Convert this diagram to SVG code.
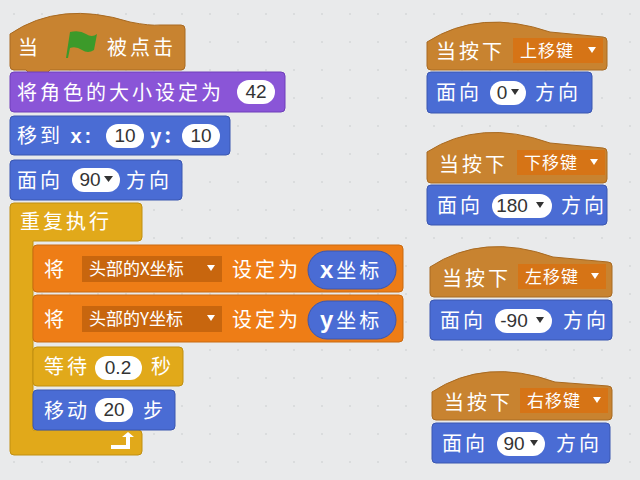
<svg xmlns="http://www.w3.org/2000/svg" width="640" height="480" viewBox="0 0 640 480">
<defs>
<pattern id="dots" width="28" height="28" patternUnits="userSpaceOnUse"><circle cx="14" cy="14" r="1" fill="#d6d7d8"/></pattern>
</defs>
<style>
text{font-family:"Noto Sans CJK SC","Liberation Sans",sans-serif;font-size:20px;letter-spacing:3px;fill:#fff}
.ev{fill:#c88330;stroke:#a86a22;stroke-width:1}
.lk{fill:#8a55d7;stroke:#6e3fba}
.mo{fill:#4a6cd4;stroke:#3a56b0}
.ct{fill:#e1a91a;stroke:#c08f10}
.da{fill:#ee7d16;stroke:#c96a10}
.bub{fill:#fff}
.bt{fill:#333;font-family:"Liberation Sans",sans-serif;font-size:19px;letter-spacing:0}
.dd{fill:#c8660e}
.ddl{fill:#d67416}
.dt{fill:#fff;font-size:17px;letter-spacing:0}
.dtr{fill:#fff;font-size:17px;letter-spacing:1px}
.tri{fill:#fff}
.tri2{fill:#333}
</style>
<rect width="640" height="480" fill="#e9eaeb"/>
<rect width="640" height="480" fill="url(#dots)"/>

<g id="start">
<path class="ev" d="M10,34 Q60,0 130,22 Q150,26 160,25 L181,25 Q185,25 185,29 L185,66 Q185,70 181,70 L50,70 L46,74 L30,74 L26,70 L14,70 Q10,70 10,66 Z"/>
<text x="18" y="55">当</text>
<path d="M66,58 L70,32 Q80,30 86,34 Q92,38 97,34 L94,50 Q88,54 82,50 Q76,46 70,48 L68,58 Z" fill="#3c9a2a"/>
<text x="107" y="55">被点击</text>
</g>
<g id="size">
<rect class="lk" x="10" y="72" width="275" height="40" rx="4"/>
<text x="17" y="100" letter-spacing="4">将角色的大小设定为</text>
<rect class="bub" x="237" y="80" width="38" height="24" rx="12"/><text class="bt" x="256" y="98" text-anchor="middle">42</text>
</g>
<g id="goto">
<rect class="mo" x="10" y="116" width="220" height="39" rx="4"/>
<text x="17" y="143">移到 <tspan font-weight="bold" font-family="Liberation Sans">x:</tspan></text>
<rect class="bub" x="106" y="124" width="38" height="24" rx="12"/><text class="bt" x="125" y="142" text-anchor="middle">10</text>
<text x="150" y="143" font-weight="bold" font-family="Liberation Sans">y:</text>
<rect class="bub" x="182" y="124" width="38" height="24" rx="12"/><text class="bt" x="201" y="142" text-anchor="middle">10</text>
</g>
<g id="face1">
<rect class="mo" x="10" y="160" width="172" height="40" rx="4"/>
<text x="17" y="188">面向</text>
<rect class="bub" x="72" y="168" width="48" height="24" rx="12"/><text class="bt" x="90" y="186" text-anchor="middle">90</text><path class="tri2" d="M104,176 L113,176 L108.5,182 Z"/>
<text x="126" y="188">方向</text>
</g>
<g id="repeat">
<path class="ct" d="M14,203 L138,203 Q142,203 142,207 L142,237 Q142,241 138,241 L33,241 L33,430 L138,430 Q142,430 142,434 L142,451 Q142,455 138,455 L14,455 Q10,455 10,451 L10,207 Q10,203 14,203 Z"/>
<text x="20" y="229">重复执行</text>
<path d="M117,447 L132,447 L132,439 L128,439 L134,434 L140,439 L136,439 L136,451 L117,451 Z" fill="#fff" transform="translate(-6,-2)"/>
</g>
<g id="setx">
<rect class="da" x="33" y="245" width="370" height="47" rx="4"/>
<text x="44" y="277">将</text>
<rect class="dd" x="82" y="256" width="140" height="26"/>
<text class="dt" x="89" y="275">头部的X坐标</text><path class="tri" d="M207,265 L215,265 L211,271 Z"/>
<text x="232" y="277">设定为</text>
<rect class="mo" x="308" y="251" width="88" height="38" rx="19"/>
<text x="320" y="278" letter-spacing="0"><tspan font-weight="bold" font-size="24" font-family="Liberation Sans">x</tspan>坐标</text>
</g>
<g id="sety">
<rect class="da" x="33" y="295" width="370" height="47" rx="4"/>
<text x="44" y="327">将</text>
<rect class="dd" x="82" y="306" width="140" height="26"/>
<text class="dt" x="89" y="325">头部的Y坐标</text><path class="tri" d="M207,315 L215,315 L211,321 Z"/>
<text x="232" y="327">设定为</text>
<rect class="mo" x="308" y="301" width="88" height="38" rx="19"/>
<text x="320" y="328" letter-spacing="0"><tspan font-weight="bold" font-size="24" font-family="Liberation Sans">y</tspan>坐标</text>
</g>
<g id="wait">
<rect class="ct" x="33" y="347" width="150" height="39" rx="4"/>
<text x="44" y="374">等待</text>
<rect class="bub" x="95" y="356" width="47" height="24" rx="12"/><text class="bt" x="118" y="374" text-anchor="middle">0.2</text>
<text x="151" y="374">秒</text>
</g>
<g id="move">
<rect class="mo" x="33" y="390" width="142" height="40" rx="4"/>
<text x="44" y="418">移动</text>
<rect class="bub" x="95" y="398" width="38" height="24" rx="12"/><text class="bt" x="114" y="416" text-anchor="middle">20</text>
<text x="143" y="418">步</text>
</g>

<g id="up">
<path class="ev" d="M427,42 Q480,8 550,32 L603,37 Q607,37 607,41 L607,66 Q607,70 603,70 L431,70 Q427,70 427,66 Z"/>
<text x="436" y="59">当按下</text>
<rect class="ddl" x="513" y="38" width="90" height="25"/><text class="dtr" x="520" y="57">上移键</text><path class="tri" d="M588,47 L596,47 L592,53 Z"/>
</g>
<g id="faceup">
<rect class="mo" x="427" y="72" width="165" height="41" rx="4"/>
<text x="436" y="100">面向</text>
<rect class="bub" x="490" y="81" width="36" height="24" rx="12"/><text class="bt" x="502" y="99" text-anchor="middle">0</text><path class="tri2" d="M511,89 L519,89 L515,95 Z"/>
<text x="535" y="100">方向</text>
</g>
<g id="down">
<path class="ev" d="M427,152 Q480,118 550,143 L603,148 Q607,148 607,152 L607,179 Q607,183 603,183 L431,183 Q427,183 427,179 Z"/>
<text x="439" y="172">当按下</text>
<rect class="ddl" x="517" y="150" width="88" height="25"/><text class="dtr" x="524" y="169">下移键</text><path class="tri" d="M590,159 L598,159 L594,165 Z"/>
</g>
<g id="facedown">
<rect class="mo" x="427" y="185" width="180" height="40" rx="4"/>
<text x="437" y="213">面向</text>
<rect class="bub" x="492" y="194" width="60" height="24" rx="12"/><text class="bt" x="512" y="212" text-anchor="middle">180</text><path class="tri2" d="M536,202 L544,202 L540,208 Z"/>
<text x="561" y="213">方向</text>
</g>
<g id="left">
<path class="ev" d="M430,267 Q483,232 553,257 L608,262 Q612,262 612,266 L612,293 Q612,297 608,297 L434,297 Q430,297 430,293 Z"/>
<text x="442" y="286">当按下</text>
<rect class="ddl" x="518" y="264" width="88" height="25"/><text class="dtr" x="525" y="283">左移键</text><path class="tri" d="M591,273 L599,273 L595,279 Z"/>
</g>
<g id="faceleft">
<rect class="mo" x="430" y="300" width="182" height="40" rx="4"/>
<text x="440" y="328">面向</text>
<rect class="bub" x="495" y="309" width="57" height="24" rx="12"/><text class="bt" x="514" y="327" text-anchor="middle">-90</text><path class="tri2" d="M536,317 L544,317 L540,323 Z"/>
<text x="563" y="328">方向</text>
</g>
<g id="right">
<path class="ev" d="M432,392 Q485,357 555,382 L608,386 Q612,386 612,390 L612,416 Q612,420 608,420 L436,420 Q432,420 432,416 Z"/>
<text x="444" y="410">当按下</text>
<rect class="ddl" x="520" y="388" width="88" height="25"/><text class="dtr" x="527" y="407">右移键</text><path class="tri" d="M593,397 L601,397 L597,403 Z"/>
</g>
<g id="faceright">
<rect class="mo" x="432" y="423" width="178" height="40" rx="4"/>
<text x="442" y="451">面向</text>
<rect class="bub" x="497" y="432" width="48" height="24" rx="12"/><text class="bt" x="514" y="450" text-anchor="middle">90</text><path class="tri2" d="M530,440 L538,440 L534,446 Z"/>
<text x="556" y="451">方向</text>
</g>
<g id="connectors"></g>
</svg>
